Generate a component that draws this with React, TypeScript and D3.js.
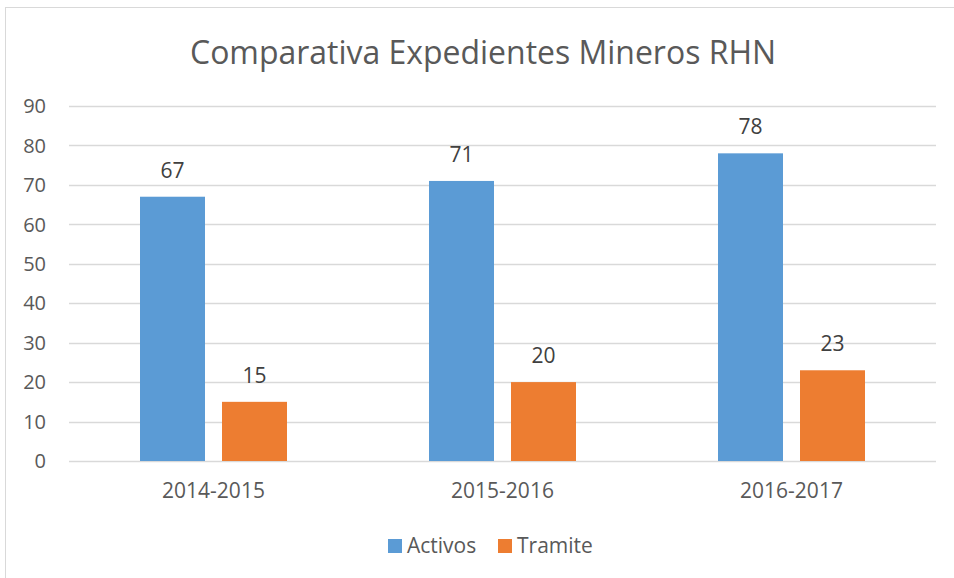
import React from 'react';
import * as d3 from 'd3';

const categories = ['2014-2015', '2015-2016', '2016-2017'];
const series = ['Activos', 'Tramite'];
const activos = [67, 71, 78];
const tramite = [15, 20, 23];
const yTicks = [0, 10, 20, 30, 40, 50, 60, 70, 80, 90];
const colors = ['#5B9BD5', '#ED7D31'];

const width = 954;
const height = 578;
const plot = { left: 69, right: 936, top: 106, bottom: 461 };
const font = '"Open Sans", "Noto Sans", sans-serif';
const textColor = '#595959';

export default function App() {
  const x = d3.scaleBand<string>()
    .domain(categories)
    .range([plot.left, plot.right])
    .padding(0);

  // two bars per category, 65px wide with a 17px gap
  const groupWidth = 147;
  const x1 = d3.scaleBand<string>()
    .domain(series)
    .range([0, groupWidth])
    .paddingInner(17 / 82);

  const y = d3.scaleLinear()
    .domain([0, 90])
    .range([plot.bottom, plot.top]);

  const values = [activos, tramite];
  const groupOffset = (x.bandwidth() - groupWidth) / 2;

  return (
    <svg
      width={width}
      height={height}
      style={{ position: 'absolute', left: 0, top: 0, background: '#fff' }}
    >
      {/* chart frame */}
      <line x1={5} y1={7.5} x2={width} y2={7.5} stroke="#D9D9D9" />
      <line x1={5.5} y1={7} x2={5.5} y2={height} stroke="#D9D9D9" />

      <text
        x={483}
        y={64}
        textAnchor="middle"
        fontFamily={font}
        fontSize={32}
        fill={textColor}
        textLength={586}
        lengthAdjust="spacingAndGlyphs"
      >
        Comparativa Expedientes Mineros RHN
      </text>

      {/* gridlines + y labels */}
      {yTicks.map((t) => (
        <g key={t}>
          <line
            x1={plot.left}
            x2={plot.right}
            y1={Math.round(y(t)) + 0.5}
            y2={Math.round(y(t)) + 0.5}
            stroke="#D9D9D9"
            strokeWidth={1.5}
          />
          <text
            x={46}
            y={y(t)}
            dy="0.36em"
            textAnchor="end"
            fontFamily={font}
            fontSize={20}
            fill={textColor}
          >
            {t}
          </text>
        </g>
      ))}

      {/* bars */}
      {categories.map((c, i) => (
        <g key={c} transform={`translate(${x(c)! + groupOffset},0)`}>
          {series.map((s, j) => {
            const v = values[j][i];
            const bx = x1(s)!;
            return (
              <g key={s}>
                <rect
                  x={bx}
                  y={y(v)}
                  width={x1.bandwidth()}
                  height={y(0) - y(v)}
                  fill={colors[j]}
                />
                <text
                  x={bx + x1.bandwidth() / 2}
                  y={y(v) - 19}
                  textAnchor="middle"
                  fontFamily={font}
                  fontSize={21}
                  fill="#404040"
                >
                  {v}
                </text>
              </g>
            );
          })}
        </g>
      ))}

      {/* category labels */}
      {categories.map((c) => (
        <text
          key={c}
          x={x(c)! + x.bandwidth() / 2}
          y={498}
          textAnchor="middle"
          fontFamily={font}
          fontSize={21}
          fill={textColor}
        >
          {c}
        </text>
      ))}

      {/* legend */}
      {series.map((s, j) => {
        const lx = [388, 498][j];
        return (
          <g key={s}>
            <rect x={lx} y={539} width={14} height={14} fill={colors[j]} />
            <text
              x={lx + 19}
              y={553}
              fontFamily={font}
              fontSize={21}
              fill={textColor}
            >
              {s}
            </text>
          </g>
        );
      })}
    </svg>
  );
}
